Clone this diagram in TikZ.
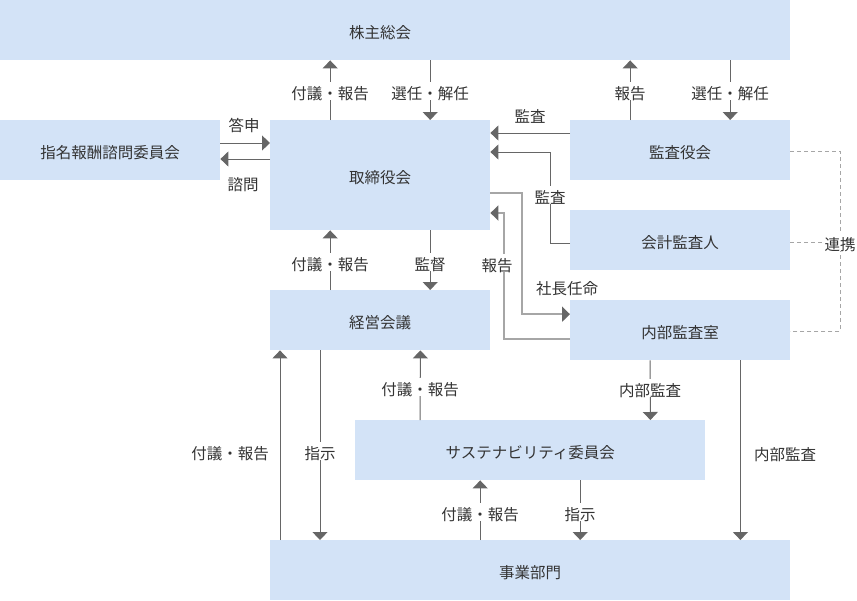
\documentclass[tikz,border=0pt]{standalone}
\usepackage{fontspec}
\setmainfont{Noto Sans CJK JP}
\usetikzlibrary{arrows.meta}

\definecolor{boxblue}{HTML}{D3E3F7}
\definecolor{linegray}{HTML}{666666}
\definecolor{litegray}{HTML}{A6A6A6}
\definecolor{txtgray}{HTML}{333333}

\tikzset{
  box/.style 2 args={fill=boxblue,text=txtgray,inner sep=0pt,anchor=north west,
    minimum width=#1pt,minimum height=#2pt,font=\fontsize{15.5pt}{17pt}\selectfont,
    text height=16pt,text depth=0pt},
  lab/.style={text=txtgray,font=\fontsize{15.5pt}{17pt}\selectfont,inner xsep=2pt,inner ysep=1pt,
    text height=16pt,text depth=0pt},
  onln/.style={lab,fill=white},
  tip/.style={-{Triangle[width=15pt,length=8pt,color=linegray]}},
  arr/.style={draw=linegray,line width=1pt,tip},
  lite/.style={draw=litegray,line width=2pt,tip},
  link/.style={draw=litegray,line width=1pt,dash pattern=on 4pt off 3pt}
}

\begin{document}
\begin{tikzpicture}[x=1pt,y=-1pt]
    \useasboundingbox (0,0) rectangle (857,600);
    % boxes
    \node (kabu)[box={790}{60}] at (0,0) {\hspace*{-30pt}株主総会};
    \node (shimei)[box={220}{60}] at (0,120) {指名報酬諮問委員会};
    \node (tori)[box={220}{110}] at (270,120) {取締役会};
    \node (kansa)[box={220}{60}] at (570,120) {監査役会};
    \node (kaikei)[box={220}{60}] at (570,210) {会計監査人};
    \node (keiei)[box={220}{60}] at (270,290) {経営会議};
    \node (naibu)[box={220}{60}] at (570,300) {内部監査室};
    \node (sustain)[box={350}{60}] at (355,420) {サステナビリティ委員会};
    \node (jigyo)[box={520}{60}] at (270,540) {事業部門};
    % shareholders
    \draw[arr] ([xshift=-50pt]tori.north) -- ([xshift=-50pt]tori.north |- kabu.south);
    \draw[arr] ([xshift=50pt]tori.north |- kabu.south) -- ([xshift=50pt]tori.north);
    \draw[arr] ([xshift=-50pt]kansa.north) -- ([xshift=-50pt]kansa.north |- kabu.south);
    \draw[arr] ([xshift=50pt]kansa.north |- kabu.south) -- ([xshift=50pt]kansa.north);
    % committee
    \draw[arr] ([yshift=-23pt]shimei.north east) -- ([yshift=-23pt]tori.north west);
    \draw[arr] ([yshift=-39pt]tori.north west) -- ([yshift=-39pt]shimei.north east);
    % audit
    \draw[arr] ([yshift=-13pt]kansa.north west) -- ([yshift=-13pt]tori.north east);
    \draw[arr] ([yshift=-33pt]kaikei.north west) -| ([xshift=60pt,yshift=-32pt]tori.north east) -- ([yshift=-32pt]tori.north east);
    \draw[lite] ([yshift=-73pt]tori.north east) -| ([xshift=-48pt,yshift=16pt]naibu.west) -- ([yshift=16pt]naibu.west);
    \draw[lite] ([yshift=-39pt]naibu.north west) -| ([xshift=14pt,yshift=-93pt]tori.north east) -- ([yshift=-93pt]tori.north east);
    \draw[link] ([yshift=-31pt]kansa.north east) -| ([xshift=50pt,yshift=-31pt]naibu.north east) -- ([yshift=-31pt]naibu.north east);
    \draw[link] ([yshift=-32pt]kaikei.north east) -- ([xshift=50pt,yshift=-32pt]kaikei.north east);
    % management
    \draw[arr] ([xshift=-50pt]keiei.north) -- ([xshift=-50pt]tori.south);
    \draw[arr] ([xshift=50pt]tori.south) -- ([xshift=50pt]keiei.north);
    \draw[arr] ([xshift=10pt]jigyo.north west) -- ([xshift=10pt]keiei.south west);
    \draw[arr] ([xshift=50pt]keiei.south west) -- ([xshift=50pt]jigyo.north west);
    \draw[arr] ([xshift=65pt]sustain.north west) -- ([xshift=-70pt]keiei.south east);
    \draw[arr] ([xshift=80pt]naibu.south west) -- ([xshift=-55pt]sustain.north east);
    \draw[arr] ([xshift=-50pt]naibu.south east) -- ([xshift=-50pt]jigyo.north east);
    \draw[arr] ([xshift=-50pt]jigyo.north) -- ([xshift=-50pt]sustain.south);
    \draw[arr] ([xshift=50pt]sustain.south) -- ([xshift=50pt]jigyo.north);
    % labels
    \node (l1)[onln] at (330,91) {付議・報告};
    \node (l2)[onln] at (430,91) {選任・解任};
    \node (l3)[onln] at (630,91) {報告};
    \node (l4)[onln] at (730,91) {選任・解任};
    \node (l5)[lab] at (244,123) {答申};
    \node (l6)[lab] at (243,182) {諮問};
    \node (l7)[lab] at (530,114) {監査};
    \node (l8)[onln] at (550,195) {監査};
    \node (l9)[lab] at (567,286) {社長任命};
    \node (l10)[onln] at (497,263) {報告};
    \node (l11)[onln] at (840,242) {連携};
    \node (l12)[onln] at (330,262) {付議・報告};
    \node (l13)[onln] at (430,262) {監督};
    \node (l14)[lab] at (230,451) {付議・報告};
    \node (l15)[onln] at (320,451) {指示};
    \node (l16)[onln] at (420,387) {付議・報告};
    \node (l17)[onln] at (650,388) {内部監査};
    \node (l18)[lab] at (785,452) {内部監査};
    \node (l19)[onln] at (480,512) {付議・報告};
    \node (l20)[onln] at (580,512) {指示};
\end{tikzpicture}
\end{document}
